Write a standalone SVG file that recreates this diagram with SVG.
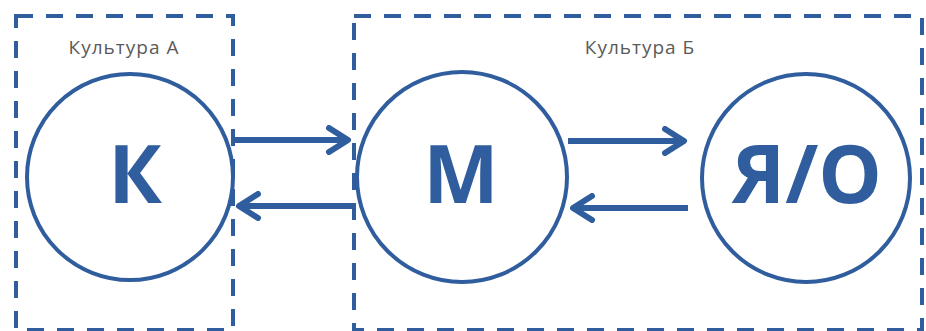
<svg xmlns="http://www.w3.org/2000/svg" width="926" height="331" viewBox="0 0 926 331">
  <defs>
    <style>
      .frame { fill: none; stroke: #2f5d9e; stroke-width: 4; stroke-dasharray: 17 13; }
      .node { fill: #ffffff; stroke: #2f5d9e; stroke-width: 4; }
      .big { font-family: "Open Sans", "Liberation Sans", sans-serif; font-weight: bold; font-size: 80px; fill: #2f5d9e; text-anchor: middle; }
      .cap { font-family: "Open Sans", "Liberation Sans", sans-serif; font-size: 19px; letter-spacing: 1px; fill: #5a5a5a; text-anchor: middle; }
      .link { fill: none; stroke: #2f5d9e; stroke-width: 6; }
    </style>
    <marker id="head" viewBox="0 0 28 30" refX="23" refY="15" markerWidth="28" markerHeight="30" markerUnits="userSpaceOnUse" orient="auto">
      <path d="M4,3 L23,15 L4,27" fill="none" stroke="#2f5d9e" stroke-width="6" stroke-linecap="round" stroke-linejoin="round"/>
    </marker>
  </defs>
  <rect width="926" height="331" fill="#ffffff"/>

  <!-- culture frames -->
  <g id="culture-a">
    <rect class="frame" x="16" y="16" width="217" height="314"/>
    <text class="cap" x="124" y="54">Культура А</text>
  </g>
  <g id="culture-b">
    <rect class="frame" x="354" y="16" width="568" height="314"/>
    <text class="cap" x="640" y="54">Культура Б</text>
  </g>

  <!-- nodes -->
  <g id="node-k">
    <circle class="node" cx="130" cy="177" r="103"/>
    <text class="big" x="135" y="203">К</text>
  </g>
  <g id="node-m">
    <circle class="node" cx="462" cy="177" r="105"/>
    <text class="big" x="461" y="203">М</text>
  </g>
  <g id="node-yo">
    <circle class="node" cx="806" cy="178" r="104"/>
    <text class="big" x="807" y="203">Я/О</text>
  </g>

  <!-- connectors -->
  <g id="connectors">
    <line class="link" x1="233" y1="140" x2="348" y2="140" marker-end="url(#head)"/>
    <line class="link" x1="354" y1="206" x2="239" y2="206" marker-end="url(#head)"/>
    <line class="link" x1="568" y1="141" x2="684" y2="141" marker-end="url(#head)"/>
    <line class="link" x1="688" y1="208" x2="573" y2="208" marker-end="url(#head)"/>
  </g>
</svg>
